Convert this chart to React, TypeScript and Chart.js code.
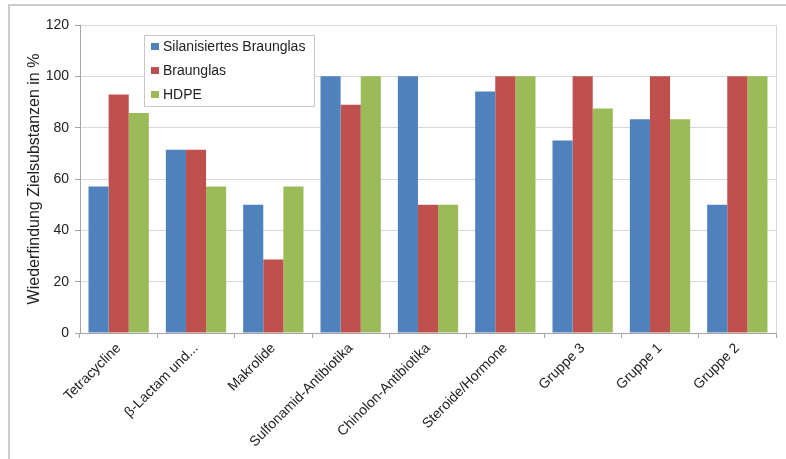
import React, { useEffect, useRef } from "react";
import { Chart, registerables } from "chart.js";

Chart.register(...registerables);

// Substance groups along the x axis
const categories = [
  "Tetracycline",
  "β-Lactam und...",
  "Makrolide",
  "Sulfonamid-Antibiotika",
  "Chinolon-Antibiotika",
  "Steroide/Hormone",
  "Gruppe 3",
  "Gruppe 1",
  "Gruppe 2",
];

// Recovery in % per container material
const silanisiertesBraunglas = [57.1, 71.4, 50, 100, 100, 94.1, 75, 83.3, 50];
const braunglas = [92.9, 71.4, 28.6, 88.9, 50, 100, 100, 100, 100];
const hdpe = [85.7, 57.1, 57.1, 100, 50, 100, 87.5, 83.3, 100];

const seriesNames = ["Silanisiertes Braunglas", "Braunglas", "HDPE"];
const seriesColors = ["#4F81BD", "#C0504D", "#9BBB59"];

const yMin = 0;
const yMax = 120;
const yStep = 20;

const yTitle = "Wiederfindung Zielsubstanzen in %";

const FONT = "'Liberation Sans', Arial, sans-serif";

// Boxed legend inside the plot area, top-left
const boxedLegend = {
  id: "boxedLegend",
  afterDatasetsDraw(chart: any) {
    const { ctx, chartArea } = chart;
    const x = chartArea.left + 64;
    const y = chartArea.top + 10;
    const w = 170;
    const h = 71;
    ctx.save();
    ctx.fillStyle = "#ffffff";
    ctx.fillRect(x, y, w, h);
    ctx.strokeStyle = "#c8c8c8";
    ctx.lineWidth = 1;
    ctx.strokeRect(x + 0.5, y + 0.5, w, h);
    ctx.font = `14px ${FONT}`;
    ctx.textBaseline = "middle";
    ctx.textAlign = "left";
    chart.data.datasets.forEach((ds: any, i: number) => {
      const cy = y + 12 + i * 24;
      ctx.fillStyle = ds.backgroundColor;
      ctx.fillRect(x + 7, cy - 4, 8, 7);
      ctx.fillStyle = "#222222";
      ctx.fillText(ds.label, x + 19, cy);
    });
    ctx.restore();
  },
};

// Light border on the right edge of the plot area
const plotBorder = {
  id: "plotBorder",
  beforeDatasetsDraw(chart: any) {
    const { ctx, chartArea } = chart;
    ctx.save();
    ctx.strokeStyle = "#d9d9d9";
    ctx.lineWidth = 1;
    ctx.beginPath();
    ctx.moveTo(Math.round(chartArea.right) + 0.5, chartArea.top);
    ctx.lineTo(Math.round(chartArea.right) + 0.5, chartArea.bottom);
    ctx.stroke();
    ctx.restore();
  },
};

export default function App() {
  const canvasRef = useRef<HTMLCanvasElement | null>(null);

  useEffect(() => {
    if (!canvasRef.current) return;
    const seriesValues = [silanisiertesBraunglas, braunglas, hdpe];
    const chart = new Chart(canvasRef.current, {
      type: "bar",
      data: {
        labels: categories,
        datasets: seriesValues.map((values, i) => ({
          label: seriesNames[i],
          data: values,
          backgroundColor: seriesColors[i],
          borderWidth: 0,
          categoryPercentage: 0.78,
          barPercentage: 1,
        })),
      },
      options: {
        animation: false,
        responsive: false,
        maintainAspectRatio: false,
        layout: { padding: { left: 21, right: 10, top: 25, bottom: 0 } },
        plugins: {
          legend: { display: false },
          tooltip: { enabled: false },
        },
        scales: {
          x: {
            grid: {
              offset: true,
              drawOnChartArea: false,
              drawTicks: true,
              tickLength: 5,
              tickColor: "#a6a6a6",
            },
            border: { color: "#a6a6a6" },
            ticks: {
              autoSkip: false,
              minRotation: 45,
              maxRotation: 45,
              padding: 2,
              color: "#222222",
              font: { family: FONT, size: 14 },
            },
            afterFit(scale: any) {
              scale.height = 126;
            },
          },
          y: {
            min: yMin,
            max: yMax,
            ticks: {
              stepSize: yStep,
              padding: 6,
              color: "#222222",
              font: { family: FONT, size: 14 },
            },
            grid: {
              color: "#d9d9d9",
              tickLength: 5,
              tickColor: "#a6a6a6",
            },
            border: { color: "#a6a6a6" },
            title: {
              display: true,
              text: yTitle,
              color: "#222222",
              font: { family: FONT, size: 16 },
              padding: { top: 4, bottom: 4 },
            },
            afterFit(scale: any) {
              scale.width = 59;
            },
          },
        },
      },
      plugins: [plotBorder, boxedLegend],
    });
    return () => chart.destroy();
  }, []);

  return (
    <div
      style={{
        position: "fixed",
        left: 0,
        top: 0,
        width: 786,
        height: 459,
        background: "#ffffff",
        overflow: "hidden",
      }}
    >
      <div
        style={{
          position: "absolute",
          left: 8,
          top: 4,
          width: 800,
          height: 480,
          borderTop: "2px solid #cccccc",
          borderLeft: "2px solid #cccccc",
        }}
      />
      <canvas
        ref={canvasRef}
        width={786}
        height={459}
        style={{ position: "absolute", left: 0, top: 0, width: 786, height: 459 }}
      />
    </div>
  );
}
